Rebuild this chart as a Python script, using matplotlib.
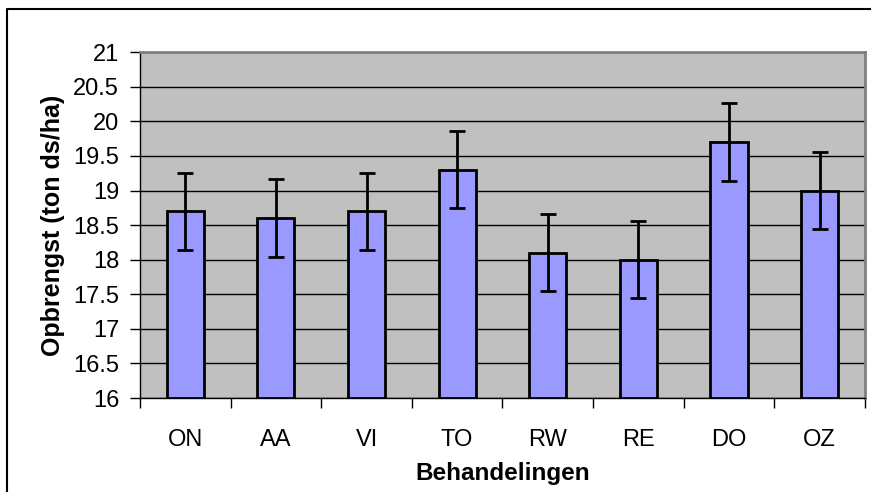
import numpy as np
import matplotlib
matplotlib.use("Agg")
from matplotlib import pyplot as plt
from matplotlib.lines import Line2D

plt.rcParams['font.family'] = ['Liberation Sans', 'DejaVu Sans']

# data
categories = ['ON', 'AA', 'VI', 'TO', 'RW', 'RE', 'DO', 'OZ']
yields = [18.7, 18.6, 18.7, 19.3, 18.1, 18.0, 19.7, 19.0]
errors = [0.56, 0.56, 0.56, 0.56, 0.56, 0.56, 0.56, 0.56]
yticks = [16, 16.5, 17, 17.5, 18, 18.5, 19, 19.5, 20, 20.5, 21]

fig = plt.figure(figsize=(8.71, 4.92), dpi=100)
ax = fig.add_axes([0.1607, 0.191, 0.8324, 0.703])
ax.set_facecolor('#C0C0C0')

x = np.arange(len(categories))
ax.bar(x, np.array(yields) - 16, bottom=16, width=0.41, color='#9999FF',
       edgecolor='black', linewidth=2, zorder=3)
ax.errorbar(x, yields, yerr=errors, fmt='none', ecolor='black',
            elinewidth=2, capsize=6, capthick=2, zorder=4)

ax.set_ylim(16, 21)
ax.set_xlim(-0.5, len(categories) - 0.5)
ax.set_yticks(yticks)
ax.set_yticklabels(['%g' % v for v in yticks])
ax.yaxis.grid(True, color='black', linewidth=1)
ax.set_axisbelow(True)

# category ticks sit between bars, labels in the middle
ax.set_xticks(np.arange(len(categories) + 1) - 0.5)
ax.set_xticklabels([])
ax.set_xticks(x, minor=True)
ax.set_xticklabels(categories, minor=True)
ax.tick_params(axis='x', which='minor', length=0, pad=22, labelsize=17)
ax.tick_params(axis='x', which='major', length=7, width=1, direction='out')
ax.tick_params(axis='y', length=7, width=1, direction='out', labelsize=17, pad=8)

for s in ['top', 'right']:
    ax.spines[s].set_color('#808080')
    ax.spines[s].set_linewidth(2)
for s in ['left', 'bottom']:
    ax.spines[s].set_color('black')
    ax.spines[s].set_linewidth(1)

ax.set_ylabel('Opbrengst (ton ds/ha)', fontsize=18, fontweight='bold', labelpad=6)
ax.set_xlabel('Behandelingen', fontsize=17.5, fontweight='bold', labelpad=8)

# outer chart frame (only left and top visible)
fig.add_artist(Line2D([7 / 871, 7 / 871, 1], [0, 1 - 9 / 492, 1 - 9 / 492],
                      transform=fig.transFigure, color='black', linewidth=1.5))

fig.savefig('out.png', dpi=100)
